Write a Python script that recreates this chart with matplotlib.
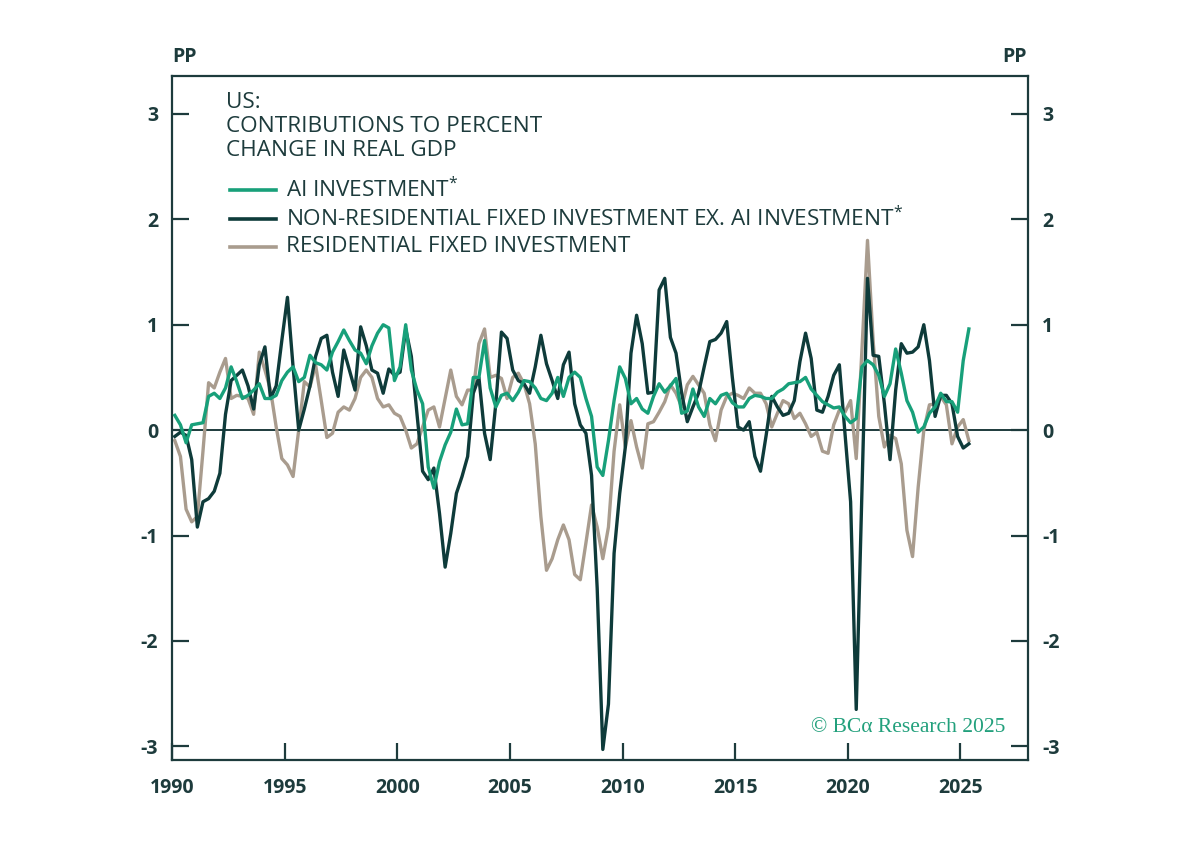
import numpy as np
import matplotlib
matplotlib.use("Agg")
import matplotlib.pyplot as plt

# quarterly data, 1990Q1 - 2025Q2 (percentage points)
ai_investment = [
    0.14, 0.05, -0.12, 0.05, 0.06, 0.07, 0.32, 0.35, 0.30, 0.40,
    0.60, 0.46, 0.30, 0.33, 0.38, 0.44, 0.30, 0.30, 0.33, 0.47,
    0.55, 0.60, 0.46, 0.50, 0.71, 0.64, 0.62, 0.57, 0.74, 0.84,
    0.95, 0.85, 0.76, 0.73, 0.63, 0.80, 0.92, 1.00, 0.97, 0.47,
    0.60, 1.00, 0.57, 0.38, 0.25, -0.35, -0.55, -0.30, -0.14, -0.02,
    0.20, 0.05, 0.06, 0.50, 0.50, 0.85, 0.40, 0.22, 0.33, 0.35,
    0.28, 0.36, 0.47, 0.46, 0.40, 0.30, 0.28, 0.35, 0.50, 0.32,
    0.50, 0.55, 0.50, 0.30, 0.13, -0.35, -0.43, -0.10, 0.28, 0.60,
    0.49, 0.25, 0.30, 0.20, 0.16, 0.32, 0.44, 0.36, 0.42, 0.49,
    0.16, 0.18, 0.39, 0.22, 0.13, 0.30, 0.25, 0.33, 0.35, 0.26,
    0.22, 0.22, 0.30, 0.33, 0.32, 0.30, 0.30, 0.36, 0.39, 0.44,
    0.45, 0.46, 0.50, 0.39, 0.33, 0.27, 0.24, 0.21, 0.22, 0.13,
    0.07, 0.11, 0.60, 0.66, 0.62, 0.52, 0.32, 0.44, 0.77, 0.54,
    0.28, 0.17, -0.02, 0.03, 0.16, 0.22, 0.35, 0.27, 0.27, 0.17,
    0.66, 0.96,
]

nonres_ex_ai = [
    -0.06, -0.02, -0.05, -0.28, -0.92, -0.68, -0.65, -0.58, -0.41, 0.15,
    0.47, 0.52, 0.57, 0.42, 0.20, 0.62, 0.79, 0.30, 0.42, 0.85,
    1.26, 0.60, 0.00, 0.20, 0.42, 0.70, 0.87, 0.90, 0.55, 0.32,
    0.76, 0.57, 0.38, 0.98, 0.80, 0.57, 0.54, 0.35, 0.58, 0.52,
    0.55, 0.96, 0.70, 0.16, -0.39, -0.47, -0.36, -0.79, -1.30, -0.98,
    -0.60, -0.44, -0.25, 0.35, 0.50, -0.03, -0.28, 0.25, 0.93, 0.87,
    0.57, 0.47, 0.44, 0.35, 0.60, 0.90, 0.63, 0.47, 0.30, 0.62,
    0.74, 0.25, 0.05, -0.03, -0.43, -1.50, -3.03, -2.60, -1.17, -0.60,
    -0.16, 0.73, 1.09, 0.82, 0.35, 0.36, 1.33, 1.44, 0.88, 0.73,
    0.35, 0.08, 0.22, 0.35, 0.60, 0.84, 0.86, 0.92, 1.03, 0.50,
    0.03, 0.00, 0.08, -0.25, -0.39, -0.05, 0.32, 0.22, 0.14, 0.16,
    0.28, 0.65, 0.92, 0.68, 0.19, 0.17, 0.32, 0.52, 0.62, -0.03,
    -0.68, -2.65, -0.60, 1.44, 0.71, 0.70, 0.25, -0.28, 0.38, 0.82,
    0.73, 0.74, 0.79, 1.00, 0.66, 0.13, 0.33, 0.33, 0.25, -0.06,
    -0.17, -0.13,
]

residential = [
    -0.10, -0.25, -0.75, -0.87, -0.82, -0.20, 0.45, 0.40, 0.55, 0.68,
    0.30, 0.33, 0.32, 0.30, 0.15, 0.74, 0.57, 0.38, 0.03, -0.27,
    -0.33, -0.44, 0.00, 0.46, 0.41, 0.62, 0.28, -0.07, -0.03, 0.17,
    0.22, 0.19, 0.30, 0.50, 0.57, 0.50, 0.30, 0.22, 0.24, 0.16,
    0.13, 0.00, -0.17, -0.13, 0.03, 0.19, 0.22, 0.03, 0.30, 0.57,
    0.32, 0.24, 0.38, 0.38, 0.82, 0.96, 0.50, 0.52, 0.49, 0.30,
    0.50, 0.54, 0.44, 0.25, -0.13, -0.82, -1.33, -1.22, -1.04, -0.90,
    -1.04, -1.37, -1.42, -1.07, -0.71, -0.92, -1.22, -0.92, -0.20, 0.24,
    -0.16, 0.09, -0.16, -0.36, 0.06, 0.08, 0.17, 0.27, 0.43, 0.35,
    0.22, 0.43, 0.51, 0.43, 0.35, 0.05, -0.10, 0.19, 0.32, 0.35,
    0.33, 0.30, 0.40, 0.35, 0.35, 0.25, 0.03, 0.16, 0.28, 0.25,
    0.11, 0.16, 0.06, -0.06, -0.02, -0.20, -0.22, 0.05, 0.19, 0.17,
    0.28, -0.27, 0.75, 1.80, 0.85, 0.13, -0.16, -0.05, -0.08, -0.32,
    -0.95, -1.20, -0.54, 0.00, 0.24, 0.25, 0.32, 0.24, -0.13, 0.03,
    0.10, -0.10,
]

labels = ["AI INVESTMENT$^{*}$",
          "NON-RESIDENTIAL FIXED INVESTMENT EX. AI INVESTMENT$^{*}$",
          "RESIDENTIAL FIXED INVESTMENT"]
colors = ["#18a07a", "#0e3b3a", "#a99c8e"]
year_ticks = [1990, 1995, 2000, 2005, 2010, 2015, 2020, 2025]
y_ticks = [-3, -2, -1, 0, 1, 2, 3]

text_col = "#1d3b3c"
plt.rcParams['font.family'] = ['Open Sans', 'DejaVu Sans']
plt.rcParams['mathtext.default'] = 'regular'

# mid-quarter dates
t = 1990 + (np.arange(len(ai_investment)) + 0.5) / 4

fig = plt.figure(figsize=(12, 8.65), dpi=100)
ax = fig.add_axes([172/1200, 1 - 760/865, (1028-172)/1200, (760-76)/865])

ax.axhline(0, color=text_col, lw=1.4, zorder=1)
ax.plot(t, residential, color=colors[2], lw=2.4, zorder=2)
ax.plot(t, nonres_ex_ai, color=colors[1], lw=2.4, zorder=3)
ax.plot(t, ai_investment, color=colors[0], lw=2.4, zorder=4)

ax.set_xlim(1990, 2028)
ax.set_ylim(-3.13, 3.36)
ax.set_xticks(year_ticks)
ax.set_xticklabels([str(y) for y in year_ticks])
ax.set_yticks(y_ticks)
ax.set_yticklabels([str(v) for v in y_ticks])

for s in ax.spines.values():
    s.set_color(text_col)
    s.set_linewidth(1.6)

ax.tick_params(axis='both', direction='in', length=12, width=1.6,
               color=text_col, labelcolor=text_col, labelsize=14)
ax.tick_params(axis='y', right=True, labelright=True, pad=10)
ax.tick_params(axis='x', pad=13)
for lab in ax.get_xticklabels() + ax.get_yticklabels():
    lab.set_fontweight('bold')

# units
for xp in (185, 1015):
    fig.text(xp/1200, 1 - 57/865, "PP", color=text_col, fontsize=14,
             fontweight='bold', ha='center', va='center')

# title
title_lines = ["US:", "CONTRIBUTIONS TO PERCENT", "CHANGE IN REAL GDP"]
for k, line in enumerate(title_lines):
    fig.text(226/1200, 1 - (102 + 24.5*k)/865, line, color=text_col,
             fontsize=16.2, ha='left', va='center')

# legend
for k, (lab, col) in enumerate(zip(labels, colors)):
    yy = 1 - (190 + 28.5*k)/865
    fig.add_artist(plt.Line2D([230/1200, 276/1200], [yy, yy], color=col, lw=2.6))
    fig.text(286/1200, yy, lab, color=text_col, fontsize=16.2,
             ha='left', va='center')

fig.text(1005/1200, 1 - 728/865, "© BCα Research 2025", color="#22a07c",
         fontsize=15.5, family=['Liberation Serif', 'DejaVu Serif'],
         ha='right', va='center')

fig.savefig("out.png", dpi=100, facecolor='white')
